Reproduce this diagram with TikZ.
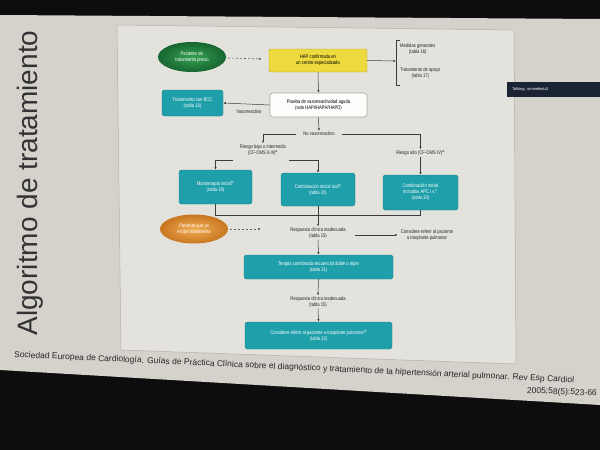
\documentclass[tikz,border=0pt]{standalone}
\usepackage{fontspec}
\setmainfont{Liberation Sans}
\newfontfamily\narrow[FakeStretch=0.8]{Liberation Sans}
\usetikzlibrary{shapes.geometric,arrows.meta}
\definecolor{slidebg}{HTML}{D5D2CC}
\definecolor{panelbg}{HTML}{E4E2DC}
\definecolor{panelln}{HTML}{B3B0A9}
\definecolor{tealbx}{HTML}{1E9FAA}
\definecolor{tealdk}{HTML}{17838C}
\definecolor{yelbx}{HTML}{EDDA3E}
\definecolor{yelln}{HTML}{B8A52A}
\definecolor{grnin}{HTML}{35A152}
\definecolor{grnout}{HTML}{176630}
\definecolor{orgin}{HTML}{F2AE55}
\definecolor{orgout}{HTML}{C8761F}
\definecolor{lnc}{HTML}{3C3C3C}
\definecolor{talkbg}{HTML}{1B2435}
\tikzset{
  small/.style={font=\narrow\fontsize{5.2}{6}\selectfont},
  tealbox/.style={small, rectangle, rounded corners=2.5pt, fill=tealbx, draw=tealdk, line width=0.4pt, text=white, align=center, inner sep=1pt},
  lbl/.style={small, align=center, text=black!85, inner sep=1pt},
  ellip/.style={small, ellipse, text=white, align=center, inner sep=0pt},
  arr/.style={draw=lnc, line width=0.5pt, -{Latex[length=2.6pt,width=2.2pt]}},
  dasharr/.style={draw=lnc!80, line width=0.6pt, dashed, dash pattern=on 2pt off 2pt, -{Latex[length=3pt,width=2.6pt]}},
  ln/.style={draw=lnc, line width=0.5pt},
}
\begin{document}
\begin{tikzpicture}[x=1pt,y=-1pt]
\useasboundingbox (0,0) rectangle (600,450);
\clip (0,0) rectangle (600,450);
% background
\fill[black!95] (0,0) rectangle (600,450);
\fill[slidebg] (0,15) -- (600,19) -- (600,405) -- (0,370) -- cycle;
% panel
\fill[panelbg, draw=panelln, line width=0.5pt] (117,25) -- (514,30) -- (516,364) -- (121,350) -- cycle;
% title
\node[rotate=90, font=\fontsize{28}{30}\selectfont, text=black!80] (title) at (30,183) {Algoritmo de tratamiento};
% talking overlay
\fill[talkbg] (507,82) rectangle (600,97);
\node[anchor=west, font=\fontsize{4}{5}\selectfont, text=white, inner sep=0pt] (talk) at (512,89.5) {Talking: ummeledu3};
% nodes
\node[ellip, shade, inner color=grnin, outer color=grnout, minimum width=68pt, minimum height=30pt] (pac1) at (192,57) {Paciente sin\\tratamiento previo};
\node[small, rectangle, rounded corners=2pt, fill=yelbx, draw=yelln, align=center, minimum width=98pt, minimum height=23pt, inner sep=1pt] (hap) at (318,60.5) {HAP confirmada en\\un centro especializado};
\node[lbl, anchor=west] (med) at (399,49) {Medidas generales\\(tabla 16)};
\node[lbl, anchor=west] (apo) at (399,73) {Tratamiento de apoyo\\(tabla 17)};
\coordinate (brk) at (396,61);
\node[small, rectangle, rounded corners=3pt, fill=white!92!panelbg, draw=black!35, line width=0.6pt, align=center, minimum width=97pt, minimum height=24pt, inner sep=1pt] (prueba) at (318.5,105) {Prueba de vasorreactividad aguda\\(solo HAPI/HAPH/HAPD)};
\node[tealbox, minimum width=61pt, minimum height=26pt] (bcc) at (192.5,103) {Tratamiento con BCC\\(tabla 18)};
\node[lbl] (vaso) at (249,112) {Vasorreactivo};
\node[lbl] (novaso) at (319,134) {No vasorreactivo};
\node[lbl] (rbajo) at (263,150) {Riesgo bajo o intermedio\\(CF-OMS II-III)$^{\mathrm{a}}$};
\node[lbl] (ralto) at (420.5,153) {Riesgo alto (CF-OMS IV)$^{\mathrm{a}}$};
\coordinate (rbl) at (233,160);
\coordinate (rbr) at (289,160);
\node[tealbox, minimum width=73pt, minimum height=34pt] (mono) at (215.5,187) {Monoterapia inicial$^{\mathrm{b}}$\\(tabla 19)};
\node[tealbox, minimum width=74pt, minimum height=33pt] (comb) at (318,189.5) {Combinación inicial oral$^{\mathrm{b}}$\\(tabla 20)};
\node[tealbox, minimum width=75pt, minimum height=35pt] (combiv) at (420.5,192.5) {Combinación inicial\\incluidos APC i.v.$^{\mathrm{c}}$\\(tabla 20)};
\coordinate (jl) at (215.5,215);
\coordinate (jr) at (420.5,215);
\node[lbl] (resp1) at (318,233) {Respuesta clínica inadecuada\\(tabla 15)};
\node[ellip, shade, inner color=orgin, outer color=orgout, minimum width=68pt, minimum height=29pt] (pac2) at (194,229) {Paciente que ya\\recibe tratamiento};
\node[lbl] (trans1) at (427,235) {Considere referir al paciente\\a trasplante pulmonar};
\node[tealbox, minimum width=149pt, minimum height=24pt] (seq) at (318.5,267) {Terapia combinada secuencial doble o triple\\(tabla 21)};
\node[lbl] (resp2) at (318,302) {Respuesta clínica inadecuada\\(tabla 15)};
\node[tealbox, minimum width=147pt, minimum height=27pt] (trans2) at (318.5,335.5) {Considere referir al paciente a trasplante pulmonar$^{\mathrm{d}}$\\(tabla 22)};
% connectors
\draw[dasharr, shorten <=2pt, shorten >=7pt] (pac1) -- (hap);
\draw[arr] (hap.east) -- (brk);
\draw[ln] ([xshift=4pt]brk |- 0,40) -- (brk |- 0,40) -- (brk |- 0,85) -- ([xshift=4pt]brk |- 0,85);
\draw[arr] (hap.south) -- (prueba.north);
\draw[arr] (prueba.west) -- (bcc.east);
\draw[arr] (prueba.south) -- (novaso.north);
\draw[arr] ([xshift=-6pt]novaso.west) -| (rbajo.north);
\draw[arr] ([xshift=6pt]novaso.east) -| (ralto.north);
\draw[arr] (rbl) -| (mono.north);
\draw[arr] (rbr) -| (comb.north);
\draw[arr] (ralto.south) -- (combiv.north);
\draw[ln] (mono.south) -- (jl) -- (jr) -- (combiv.south);
\draw[arr] (comb.south) -- (resp1.north);
\draw[dasharr, shorten <=2pt, shorten >=28pt] (pac2) -- (resp1.west |- pac2);
\draw[arr, shorten <=8pt, shorten >=2pt] (resp1.east |- trans1.west) -- (trans1.west);
\draw[arr] (resp1.south) -- (seq.north);
\draw[arr] (seq.south) -- (resp2.north);
\draw[arr] (resp2.south) -- (trans2.north);
% citation
\node[anchor=west, rotate=-2.6, font=\fontsize{8.5}{10}\selectfont, text=black!85, inner sep=0pt] (cite) at (14,355) {Sociedad Europea de Cardiología. Guías de Práctica Clínica sobre el diagnóstico y tratamiento de la hipertensión arterial pulmonar. Rev Esp Cardiol};
\node[anchor=east, rotate=-2.6, font=\fontsize{8.5}{10}\selectfont, text=black!85, inner sep=0pt] (cite2) at (597,394) {2005;58(5):523-66};
\end{tikzpicture}
\end{document}
